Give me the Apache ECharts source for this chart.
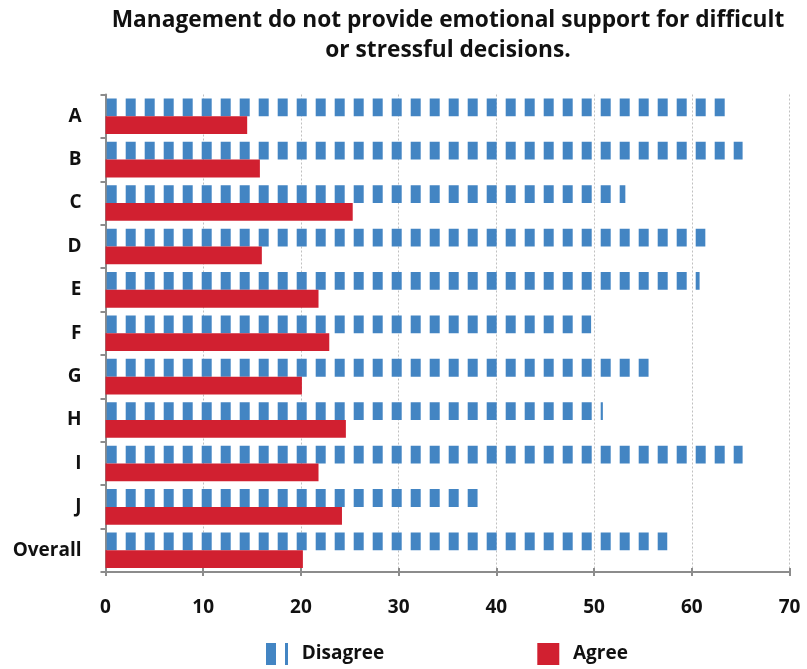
<!DOCTYPE html>
<html><head><meta charset="utf-8">
<script src="https://cdn.jsdelivr.net/npm/echarts@6/dist/echarts.min.js"></script>
<style>html,body{margin:0;padding:0;background:#fff}#c{width:807px;height:669px}</style>
</head><body><div id="c"></div>
<script>
var categories = ['A','B','C','D','E','F','G','H','I','J','Overall'];
var disagree = [63.4, 65.2, 53.2, 61.4, 60.8, 49.7, 55.6, 50.9, 65.2, 38.1, 57.5];
var agree = [14.5, 15.8, 25.3, 16.0, 21.8, 22.9, 20.1, 24.6, 21.8, 24.2, 20.2];
var xTicks = [0,10,20,30,40,50,60,70];

var BLUE = '#4385c3', RED = '#d12030';
function stripe(offset){
  var c = document.createElement('canvas'); c.width = 19; c.height = 4;
  var g = c.getContext('2d'); g.fillStyle = BLUE;
  for (var k=-1;k<=1;k++){ g.fillRect(offset + k*19, 0, 10, 4); }
  return c;
}
var barPattern = {image: stripe(106.7 % 19), repeat: 'repeat'};
var legendPattern = {image: stripe(0), repeat: 'repeat'};

var FONT = '"Open Sans", sans-serif';
var chart = echarts.init(document.getElementById('c'));
chart.setOption({
  animation: false,
  title: {
    text: 'Management do not provide emotional support for difficult\nor stressful decisions.',
    left: 443, textAlign: 'center', top: 0,
    textStyle: {fontFamily: FONT, fontWeight: 'bold', fontSize: 22.7, color: '#111', lineHeight: 30.5}
  },
  legend: {
    left: 261, top: 638, itemWidth: 22, itemHeight: 22, itemGap: 153,
    textStyle: {fontFamily: FONT, fontWeight: 'bold', fontSize: 19, color: '#111', padding: [0,0,0,8.7]},
    data: [{name: 'Disagree', icon: 'rect', itemStyle: {color: legendPattern}}, {name: 'Agree', icon: 'rect'}]
  },
  grid: {left: 105.5, right: 17.5, top: 94.5, bottom: 97, containLabel: false},
  xAxis: [{
    type: 'value', min: 0, max: 70, interval: 10,
    axisLine: {show: true, lineStyle: {color: '#8c8c8c', width: 2}},
    axisTick: {show: true, length: 4, lineStyle: {color: '#8c8c8c', width: 2}},
    axisLabel: {fontFamily: FONT, fontWeight: 'bold', fontSize: 19, color: '#111', margin: 26,
      formatter: function(v){ return xTicks.indexOf(v) >= 0 ? String(v) : ''; }},
    splitLine: {show: true, lineStyle: {color: '#c0c0c0', width: 1, type: [2,2]}}
  }, {
    type: 'value', min: 0, max: 70, interval: 10, position: 'bottom',
    axisLine: {show: false}, axisLabel: {show: false}, splitLine: {show: false},
    axisTick: {show: true, inside: true, length: 4, lineStyle: {color: '#8c8c8c', width: 2}}
  }],
  yAxis: {
    type: 'category', data: categories, inverse: true,
    axisLine: {show: true, lineStyle: {color: '#8c8c8c', width: 2}},
    axisTick: {show: true, length: 5, lineStyle: {color: '#8c8c8c', width: 2}},
    axisLabel: {fontFamily: FONT, fontWeight: 'bold', fontSize: 19, color: '#111', margin: 24}
  },
  series: [
    {name: 'Disagree', type: 'bar', data: disagree, barGap: '0%', barCategoryGap: '18%',
      itemStyle: {color: barPattern}},
    {name: 'Agree', type: 'bar', data: agree, barGap: '0%', barCategoryGap: '18%',
      itemStyle: {color: RED}}
  ]
});
</script></body></html>
